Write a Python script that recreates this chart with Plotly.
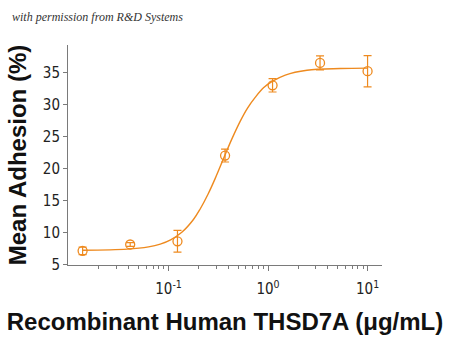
import plotly.graph_objects as go

# Measured points (3-fold dilutions, µg/mL) and mean adhesion (%)
conc = [0.0137, 0.0412, 0.123, 0.370, 1.11, 3.33, 10.0]
adhesion = [7.1, 8.1, 8.6, 22.0, 33.0, 36.5, 35.2]
err = [0.6, 0.3, 1.7, 1.0, 1.05, 1.1, 2.45]

# Fitted curve
curve_x = [0.0137, 0.0385, 0.063, 0.0826, 0.105, 0.136, 0.178, 0.208, 0.25,
           0.294, 0.363, 0.43, 0.526, 0.62, 0.743, 0.9, 1.10, 1.49, 2.46, 5.32, 10.0]
curve_y = [7.2, 7.37, 7.73, 8.16, 8.83, 10.0, 12.0, 13.65, 16.0,
           18.4, 21.8, 24.5, 27.4, 29.4, 31.1, 32.6, 33.6, 34.6, 35.35, 35.62, 35.68]

y_ticks = [5, 10, 15, 20, 25, 30, 35]
x_ticks = [0.1, 1, 10]
x_ticktext = ["10<sup>-1</sup>", "10<sup>0</sup>", "10<sup>1</sup>"]
x_minor = [0.02, 0.03, 0.04, 0.05, 0.06, 0.07, 0.08, 0.09,
           0.2, 0.3, 0.4, 0.5, 0.6, 0.7, 0.8, 0.9,
           2, 3, 4, 5, 6, 7, 8, 9]

orange = "#EE8A1F"
axis_gray = "#7a7a7a"
tick_font = dict(family="Liberation Sans Narrow, DejaVu Sans Condensed, sans-serif",
                 size=15, color="#222222")
title_font = dict(family="Liberation Sans, Arial, sans-serif", size=24,
                  color="#111111", weight="bold")

fig = go.Figure()
fig.add_trace(go.Scatter(
    x=curve_x, y=curve_y, mode="lines",
    line=dict(color=orange, width=1.4, shape="spline", smoothing=1.0),
    hoverinfo="skip", showlegend=False))
fig.add_trace(go.Scatter(
    x=conc, y=adhesion, mode="markers",
    marker=dict(symbol="circle-open", size=9, color=orange,
                line=dict(width=1.3, color=orange)),
    error_y=dict(type="data", array=err, visible=True, color=orange,
                 thickness=1.2, width=4),
    showlegend=False))

fig.update_layout(
    width=450, height=340,
    margin=dict(l=68, r=68, t=45, b=75),
    paper_bgcolor="white", plot_bgcolor="white",
    font=dict(family="Liberation Sans, Arial, sans-serif", color="#111111"),
    xaxis=dict(
        type="log", range=[-2.01, 1.145], automargin=False,
        tickmode="array", tickvals=x_ticks, ticktext=x_ticktext,
        ticks="outside", ticklen=5, tickwidth=1, tickcolor=axis_gray,
        ticklabelstandoff=5,
        showline=True, linecolor=axis_gray, linewidth=1,
        showgrid=False, zeroline=False,
        tickfont=tick_font,
        minor=dict(tickmode="array", tickvals=x_minor, ticks="outside",
                   ticklen=3, tickwidth=1, tickcolor=axis_gray, showgrid=False),
        title=dict(text="Recombinant Human THSD7A (μg/mL)",
                   font=title_font, standoff=16),
    ),
    yaxis=dict(
        range=[4.89, 39.3], automargin=False,
        tickmode="array", tickvals=y_ticks,
        ticks="outside", ticklen=4, tickwidth=1, tickcolor=axis_gray,
        showline=True, linecolor=axis_gray, linewidth=1,
        showgrid=False, zeroline=False,
        tickfont=tick_font,
        title=dict(text="Mean Adhesion (%)", font=title_font, standoff=9),
    ),
    annotations=[dict(
        text="<i>with permission from R&amp;D Systems</i>",
        xref="paper", yref="paper", x=-68/314, y=1 + 28/220,
        xanchor="left", yanchor="middle", showarrow=False,
        font=dict(family="Liberation Serif, serif", size=12, color="#333333"),
        xshift=10,
    )],
)

fig.write_html("out.html")
